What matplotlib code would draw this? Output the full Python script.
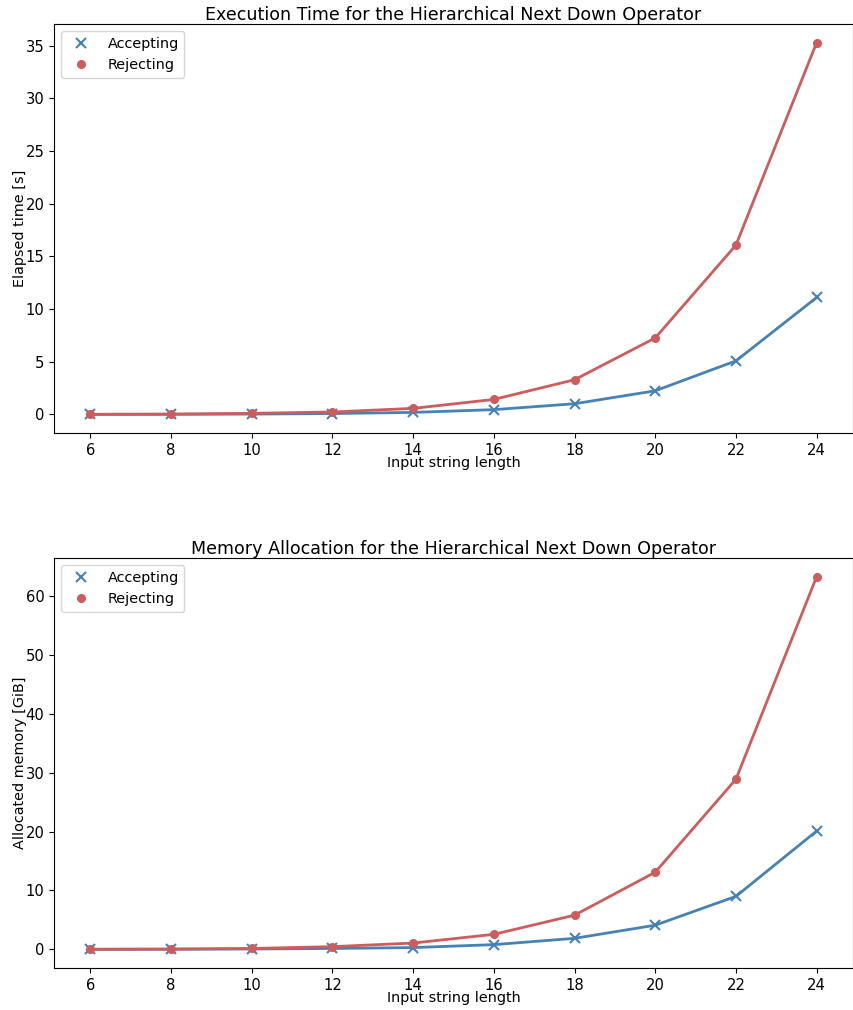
import matplotlib
matplotlib.use("Agg")
import matplotlib.pyplot as plt

lengths = [6, 8, 10, 12, 14, 16, 18, 20, 22, 24]
time_accepting = [0.0, 0.01, 0.03, 0.08, 0.19, 0.45, 1.01, 2.24, 5.08, 11.1]
time_rejecting = [0.01, 0.03, 0.1, 0.23, 0.57, 1.42, 3.29, 7.26, 16.07, 35.3]
mem_accepting = [0.0, 0.02, 0.06, 0.15, 0.3, 0.8, 1.87, 4.1, 9.0, 20.1]
mem_rejecting = [0.02, 0.05, 0.15, 0.46, 1.07, 2.55, 5.8, 13.1, 28.9, 63.3]

blue = "#4682b4"
red = "#cd5c5c"

fig = plt.figure(figsize=(8.54, 10.10), dpi=100)
ax1 = fig.add_axes([0.0632, 0.5713, 0.9356, 0.4050])
ax2 = fig.add_axes([0.0632, 0.0416, 0.9356, 0.4059])

def draw(ax, acc, rej, title, ylabel):
    ax.plot(lengths, acc, color=blue, lw=2)
    ax.plot(lengths, rej, color=red, lw=2)
    ax.plot(lengths, acc, "x", color=blue, ms=6.5, mew=1.5, label="Accepting")
    ax.plot(lengths, rej, "o", color=red, ms=5.5, label="Rejecting")
    ax.set_xticks(lengths)
    ax.set_title(title, fontsize=12.6, pad=3)
    ax.set_xlabel("Input string length", fontsize=10.4, labelpad=-1)
    ax.set_ylabel(ylabel, fontsize=10.4, labelpad=-1)
    ax.tick_params(labelsize=10.6)
    ax.legend(loc="upper left", fontsize=10.4)

draw(ax1, time_accepting, time_rejecting,
     "Execution Time for the Hierarchical Next Down Operator", "Elapsed time [s]")
draw(ax2, mem_accepting, mem_rejecting,
     "Memory Allocation for the Hierarchical Next Down Operator", "Allocated memory [GiB]")

fig.savefig("out.png", dpi=100)
